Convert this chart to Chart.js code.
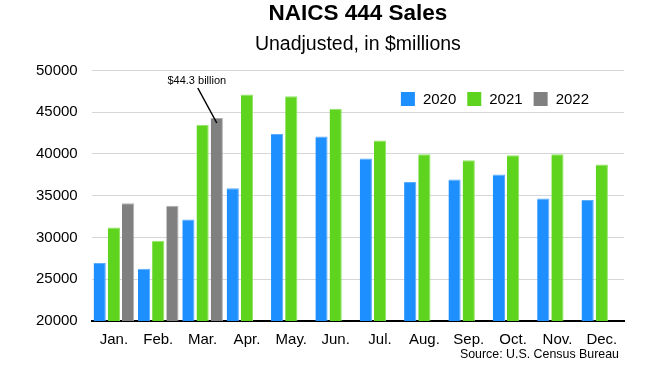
<!DOCTYPE html>
<html>
<head>
<meta charset="utf-8">
<script src="https://cdn.jsdelivr.net/npm/chart.js@4"></script>
<style>
  html, body { margin: 0; padding: 0; background: #fff; }
  #wrap { width: 655px; height: 368px; position: relative; }
</style>
</head>
<body>
<div id="wrap"><canvas id="salesChart"></canvas></div>
<script>
const months = ['Jan.', 'Feb.', 'Mar.', 'Apr.', 'May.', 'Jun.', 'Jul.', 'Aug.', 'Sep.', 'Oct.', 'Nov.', 'Dec.'];
const sales2020 = [26950, 26250, 32150, 35900, 42400, 42100, 39450, 36650, 36950, 37550, 34650, 34500];
const sales2021 = [31200, 29600, 43500, 47100, 46900, 45400, 41600, 39950, 39250, 39850, 39950, 38750];
const sales2022 = [34100, 33800, 44300, null, null, null, null, null, null, null, null, null];
const yTicks = [20000, 25000, 30000, 35000, 40000, 45000, 50000];
const calloutText = '$44.3 billion';
const sourceText = 'Source: U.S. Census Bureau';

const FONT = "'Liberation Sans', Arial, Helvetica, sans-serif";

// legend drawn inside the plot, top right
const innerLegend = {
    id: 'innerLegend',
    afterDraw(chart) {
        const ctx = chart.ctx;
        const area = chart.chartArea;
        ctx.save();
        ctx.font = '15px ' + FONT;
        ctx.textBaseline = 'middle';
        const items = chart.data.datasets.map(ds => ({ label: ds.label, color: ds.backgroundColor }));
        const box = 14, gapBox = 8, gapItem = 11;
        let total = 0;
        items.forEach((it, i) => {
            total += box + gapBox + ctx.measureText(it.label).width + (i < items.length - 1 ? gapItem : 0);
        });
        let x = area.right - 35 - total;
        const y = 99;
        items.forEach(it => {
            ctx.fillStyle = it.color;
            ctx.fillRect(x, y - box / 2, box, box);
            x += box + gapBox;
            ctx.fillStyle = '#000';
            ctx.fillText(it.label, x, y + 1);
            x += ctx.measureText(it.label).width + gapItem;
        });
        ctx.restore();
    }
};

// callout pointing at the March 2022 bar, plus the source line
const notes = {
    id: 'notes',
    afterDatasetsDraw(chart) {
        const ctx = chart.ctx;
        const bar = chart.getDatasetMeta(2).data[2];
        ctx.save();
        if (bar) {
            ctx.strokeStyle = '#000';
            ctx.lineWidth = 1.5;
            ctx.beginPath();
            ctx.moveTo(bar.x - 19, bar.y - 30);
            ctx.lineTo(bar.x, bar.y + 5);
            ctx.stroke();
            ctx.font = '11px ' + FONT;
            ctx.fillStyle = '#000';
            ctx.textAlign = 'center';
            ctx.textBaseline = 'middle';
            ctx.fillText(calloutText, bar.x - 20, bar.y - 37);
        }
        ctx.font = '12.4px ' + FONT;
        ctx.fillStyle = '#000';
        ctx.textAlign = 'right';
        ctx.textBaseline = 'middle';
        ctx.fillText(sourceText, chart.chartArea.right - 5, chart.chartArea.bottom + 34);
        ctx.restore();
    }
};

new Chart(document.getElementById('salesChart'), {
    type: 'bar',
    data: {
        labels: months,
        datasets: [
            { label: '2020', data: sales2020, backgroundColor: '#1e8fff', borderColor: '#5aacff', borderWidth: { top: 1, right: 1 } },
            { label: '2021', data: sales2021, backgroundColor: '#5fd41e', borderColor: '#92e466', borderWidth: { top: 1, right: 1 } },
            { label: '2022', data: sales2022, backgroundColor: '#808080', borderColor: '#b0b0b0', borderWidth: { top: 1, right: 1 } }
        ]
    },
    options: {
        responsive: true,
        maintainAspectRatio: false,
        animation: false,
        datasets: { bar: { categoryPercentage: 0.96, barPercentage: 0.86 } },
        layout: { padding: { left: 22, right: 31, top: 0, bottom: 17 } },
        plugins: {
            legend: { display: false },
            tooltip: { enabled: false },
            title: {
                display: true,
                text: 'NAICS 444 Sales',
                fullSize: false,
                color: '#000',
                font: { family: FONT, size: 22.5, weight: 'bold' },
                padding: { top: 0, bottom: 6 }
            },
            subtitle: {
                display: true,
                text: 'Unadjusted, in $millions',
                fullSize: false,
                color: '#000',
                font: { family: FONT, size: 19.5 },
                padding: { top: 0, bottom: 14 }
            }
        },
        scales: {
            x: {
                grid: { display: false },
                border: { display: true, color: '#000', width: 2 },
                ticks: { color: '#000', font: { family: FONT, size: 15 }, padding: 2 }
            },
            y: {
                min: yTicks[0],
                max: yTicks[yTicks.length - 1],
                afterBuildTicks: axis => { axis.ticks = yTicks.map(v => ({ value: v })); },
                grid: { color: '#d6d6d6', lineWidth: 1, drawTicks: false },
                border: { display: false },
                ticks: {
                    color: '#000',
                    font: { family: FONT, size: 15 },
                    padding: 14,
                    callback: v => String(v)
                }
            }
        }
    },
    plugins: [innerLegend, notes]
});
</script>
</body>
</html>
